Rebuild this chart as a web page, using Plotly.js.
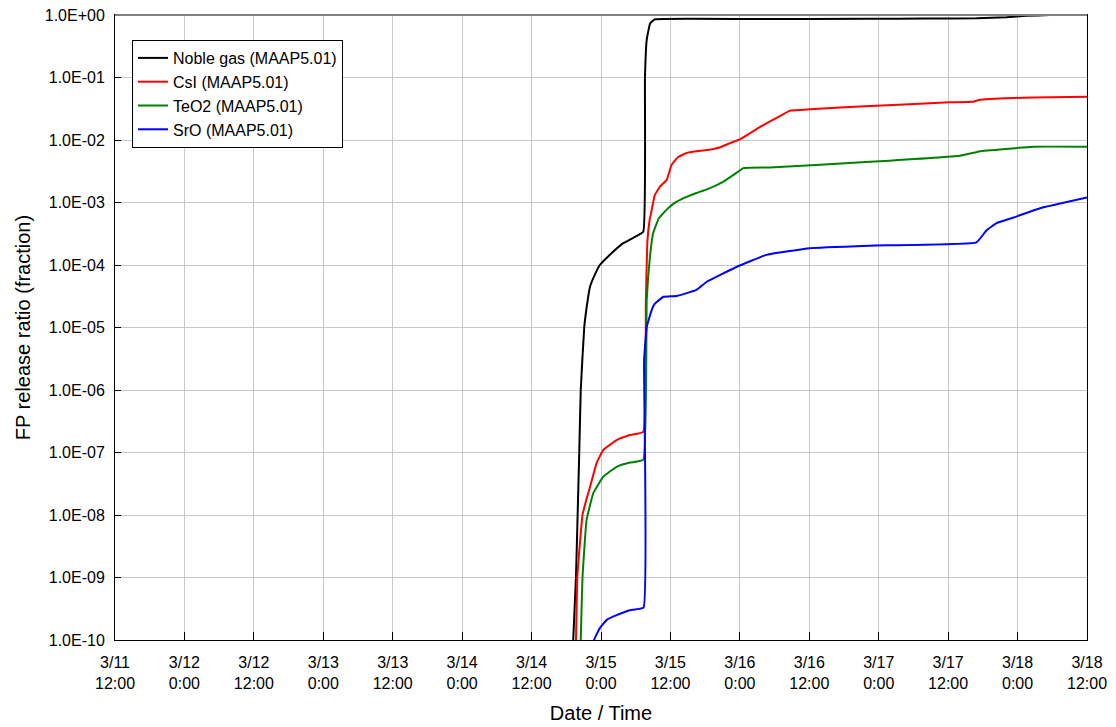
<!DOCTYPE html>
<html>
<head>
<meta charset="utf-8">
<script src="https://cdn.plot.ly/plotly-3.0.1.min.js"></script>
<style>html,body{margin:0;padding:0;background:#fff;}#chart{width:1116px;height:727px;}</style>
</head>
<body>
<div id="chart"></div>
<script>
// Time in hours after 3/11 12:00
const tickHours = [0,12,24,36,48,60,72,84,96,108,120,132,144,156,168];
const tickLabels = ["3/11<br>12:00","3/12<br>0:00","3/12<br>12:00","3/13<br>0:00","3/13<br>12:00","3/14<br>0:00","3/14<br>12:00","3/15<br>0:00","3/15<br>12:00","3/16<br>0:00","3/16<br>12:00","3/17<br>0:00","3/17<br>12:00","3/18<br>0:00","3/18<br>12:00"];
const yTickVals = [1e-10,1e-9,1e-8,1e-7,1e-6,1e-5,1e-4,1e-3,1e-2,1e-1,1];
const yTickText = ["1.0E-10","1.0E-09","1.0E-08","1.0E-07","1.0E-06","1.0E-05","1.0E-04","1.0E-03","1.0E-02","1.0E-01","1.0E+00"];

const nobleT = [79.0,79.2,79.67,79.96,80.24,80.5,81.1,81.7,82.1,83.0,83.8,85.5,87.85,89.5,91.3,91.6,91.9,92.5,93.3,110,130,140,148.9,154.1,157.5,161.6,168];
const nobleV = [1e-11,1e-10,1e-9,1e-8,1e-7,1e-6,1e-5,2.75e-5,4.5e-5,7.2e-5,1e-4,1.45e-4,2.24e-4,2.7e-4,3.4e-4,0.1,0.4,0.74,0.85,0.86,0.87,0.875,0.885,0.92,0.97,1.0,1.0];

const csiT = [79.5,79.68,79.9,80.8,81.5,82.1,82.7,83.25,84.4,86.7,89.0,91.3,91.75,92.0,92.4,92.76,93.3,94.2,95.35,96.2,97.3,98.8,100.5,102.3,104.5,106.3,108.0,111.5,114.5,116.7,120.1,130.5,144.3,148.3,149.5,155.3,158.7,168];
const csiV = [1e-11,1e-10,1e-9,1e-8,1.8e-8,2.8e-8,4.5e-8,6.8e-8,1.1e-7,1.58e-7,1.9e-7,2.14e-7,2.6e-5,2.24e-4,5.2e-4,7.6e-4,1.32e-3,1.8e-3,2.3e-3,4.0e-3,5.3e-3,6.2e-3,6.6e-3,6.9e-3,7.6e-3,8.9e-3,1.02e-2,1.62e-2,2.3e-2,2.95e-2,3.1e-2,3.5e-2,4.0e-2,4.1e-2,4.4e-2,4.7e-2,4.8e-2,4.9e-2];

const teo2T = [80.4,80.5,80.8,81.5,82.67,84.4,86.7,89.0,91.3,91.9,92.46,93.0,94.0,95.6,97.0,98.8,100.5,102.3,105.1,107.0,108.6,113.2,130.5,146.0,148.6,149.5,158.7,168];
const teo2V = [1e-11,1e-10,1e-9,8.3e-9,2.24e-8,4.1e-8,5.9e-8,6.9e-8,7.6e-8,2.75e-5,1.35e-4,3.2e-4,5.6e-4,8.1e-4,1.02e-3,1.23e-3,1.42e-3,1.62e-3,2.14e-3,2.8e-3,3.55e-3,3.63e-3,4.47e-3,5.6e-3,6.3e-3,6.6e-3,7.8e-3,7.8e-3];

const sroT = [82.5,82.8,83.8,85.0,86.7,89.0,91.35,91.45,91.9,92.76,93.3,94.8,97.1,100.5,102.3,107.4,112.6,120.1,130.5,148.9,150.65,152.4,155.3,159.9,168];
const sroV = [5e-11,1e-10,1.55e-10,2.1e-10,2.5e-10,3.0e-10,3.3e-10,3e-6,1.02e-5,1.9e-5,2.4e-5,3.1e-5,3.2e-5,4.0e-5,5.4e-5,9.3e-5,1.45e-4,1.86e-4,2.04e-4,2.3e-4,3.6e-4,4.7e-4,5.75e-4,8.1e-4,1.2e-3];

const seriesNames = ["Noble gas (MAAP5.01)","CsI (MAAP5.01)","TeO2 (MAAP5.01)","SrO (MAAP5.01)"];
const seriesColors = ["#000000","#ff0000","#008000","#0000ff"];
const seriesT = [nobleT, csiT, teo2T, sroT];
const seriesV = [nobleV, csiV, teo2V, sroV];

const traces = seriesNames.map((n,i)=>({
  x: seriesT[i], y: seriesV[i], name: n, type: 'scatter', mode: 'lines',
  line: {color: seriesColors[i], width: 2, shape: 'spline', smoothing: 0.3},
  legendgroup: 'g'+i
}));

const fam = 'Liberation Sans, Arial, sans-serif';
const font = {family: fam, size: 16, color: '#000'};
const layout = {
  width: 1116, height: 727,
  margin: {l: 115, r: 29, t: 15, b: 87},
  paper_bgcolor: '#fff', plot_bgcolor: '#fff',
  font: font,
  showlegend: true,
  legend: {x: 0.0175, y: 0.96, xanchor: 'left', yanchor: 'top', bordercolor: '#000', borderwidth: 1,
           bgcolor: '#fff', font: {family: fam, size: 16, color: '#000'}, tracegroupgap: 0},
  xaxis: {
    range: [0,168], tickvals: tickHours, ticktext: tickLabels, tickmode: 'array',
    showgrid: true, gridcolor: '#c8c8c8', gridwidth: 1,
    showline: true, linecolor: '#000', linewidth: 1, mirror: true,
    ticks: 'inside', ticklen: 8, tickcolor: '#000', ticklabelstandoff: 8,
    zeroline: false, tickfont: font,
    title: {text: 'Date / Time', font: {family: fam, size: 20, color: '#000'}, standoff: 14}
  },
  yaxis: {
    type: 'log', range: [-10, 0], tickvals: yTickVals, ticktext: yTickText, tickmode: 'array',
    showgrid: true, gridcolor: '#c8c8c8', gridwidth: 1,
    showline: true, linecolor: '#000', linewidth: 1, mirror: true,
    ticks: 'inside', ticklen: 6, tickcolor: '#000', ticklabelstandoff: 6,
    zeroline: false, tickfont: font,
    title: {text: 'FP release ratio (fraction)', font: {family: fam, size: 20, color: '#000'}, standoff: 8}
  },
  shapes: [{type: 'line', xref: 'paper', yref: 'paper', x0: 0, x1: 1, y0: 1, y1: 1,
            line: {color: '#808080', width: 2}}]
};
Plotly.newPlot('chart', traces, layout, {displayModeBar: false, staticPlot: true});
</script>
</body>
</html>
